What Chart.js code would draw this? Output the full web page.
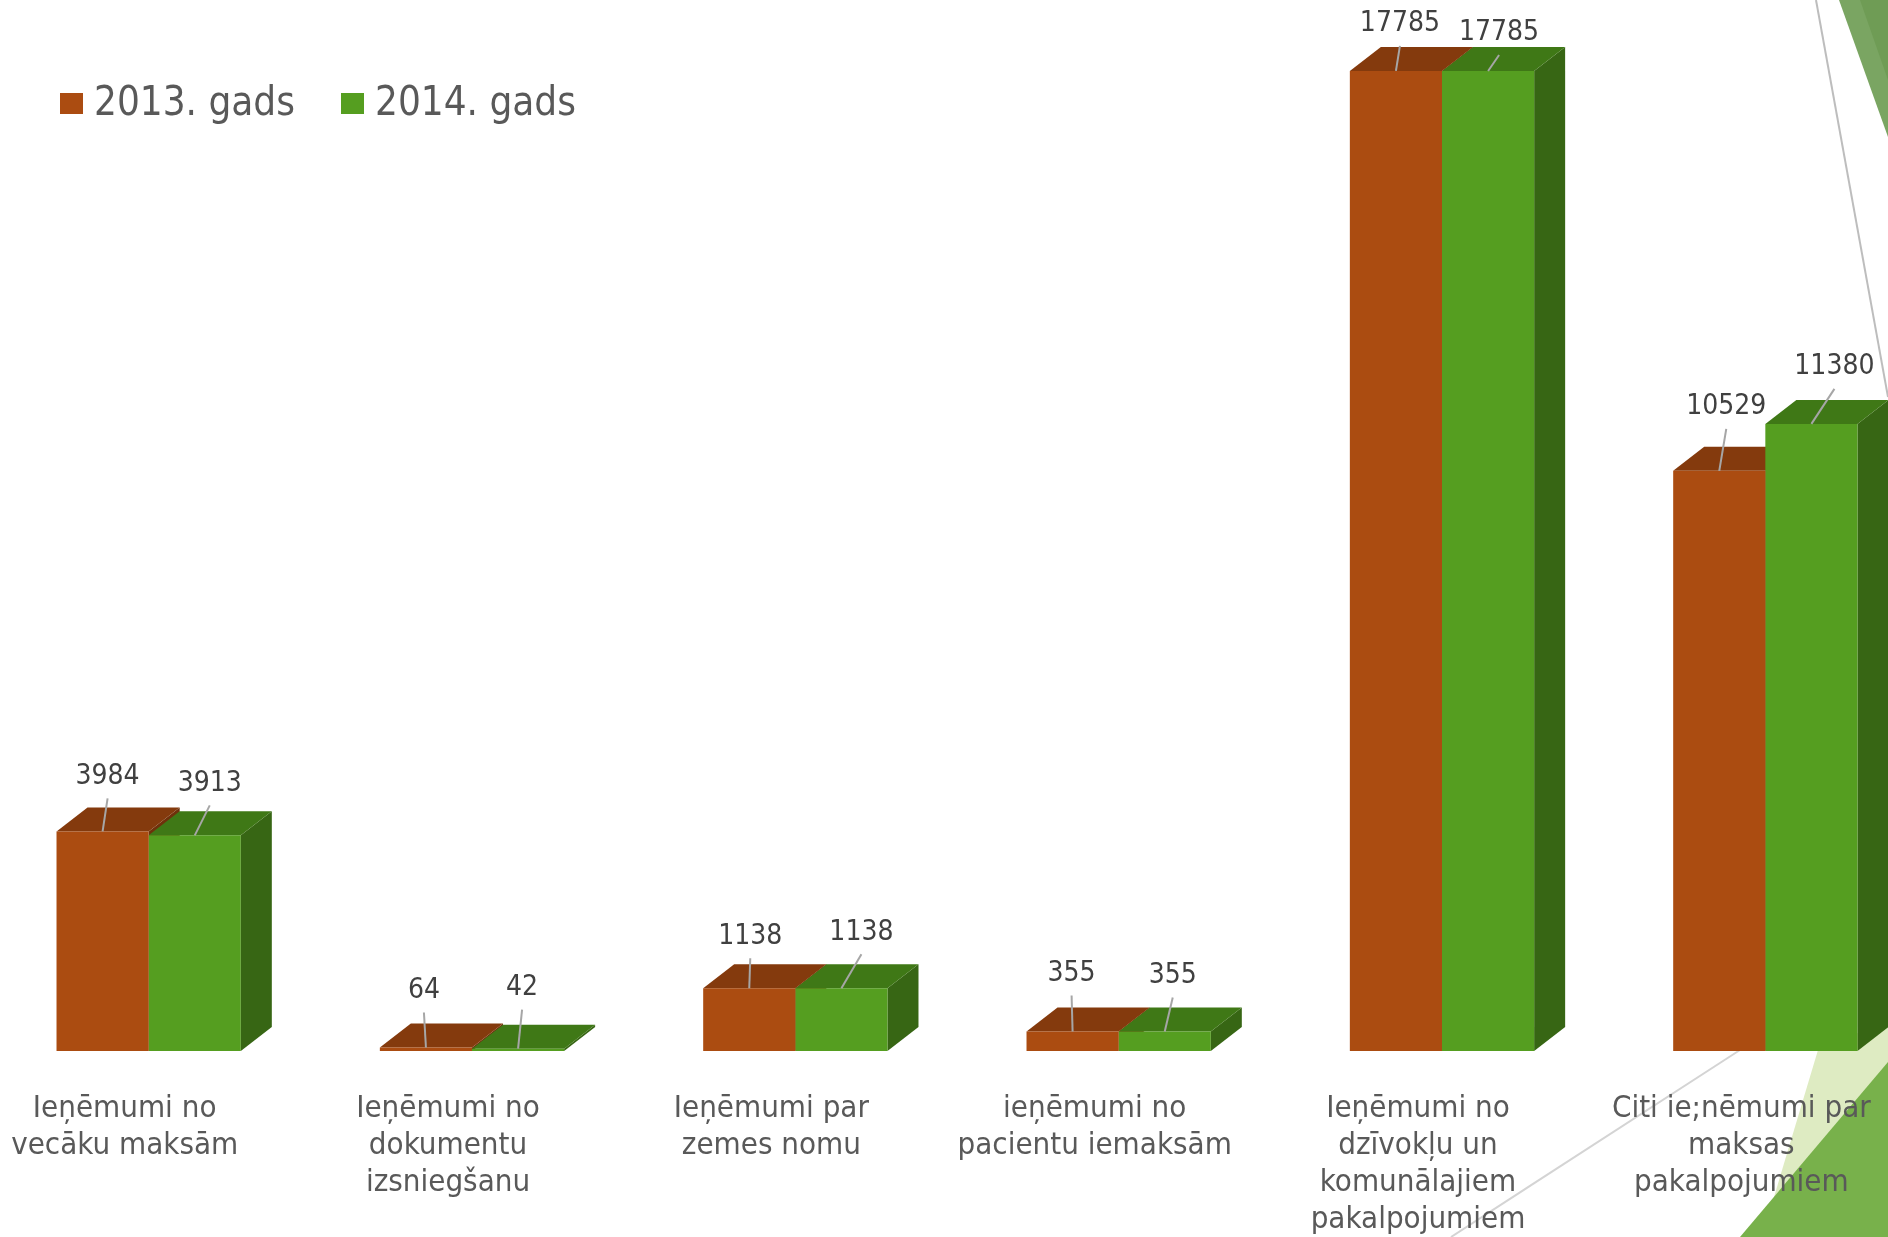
<!DOCTYPE html>
<html>
<head>
<meta charset="utf-8">
<title>Ieņēmumi</title>
<script src="https://cdn.jsdelivr.net/npm/chart.js@4/dist/chart.umd.js"></script>
<style>
html, body { margin: 0; padding: 0; background: #fff; width: 1888px; height: 1237px; overflow: hidden; }
#bg { position: absolute; left: 0; top: 0; }
#myChart { position: absolute; left: -13px; top: 0; }
</style>
</head>
<body>
<!-- slide theme shapes behind the chart -->
<svg id="bg" width="1888" height="1237">
  <polygon points="1839,0 1888,0 1888,137" fill="#7aa562"/>
  <polygon points="1860,0 1888,0 1888,80" fill="#6f9c55"/>
  <line x1="1816" y1="0" x2="1888" y2="397" stroke="#bdbdbd" stroke-width="2"/>
  <line x1="1451" y1="1237" x2="1740" y2="1050" stroke="#d4d4d4" stroke-width="2"/>
  <polygon points="1818,1050 1888,1020 1888,1237 1762,1237" fill="#deebc2"/>
  <polygon points="1888,1062 1888,1237 1740,1237" fill="#78b14b"/>
</svg>
<canvas id="myChart" width="1940" height="1237"></canvas>
<script>
const categories = [
    ['Ieņēmumi no', 'vecāku maksām'],
    ['Ieņēmumi no', 'dokumentu', 'izsniegšanu'],
    ['Ieņēmumi par', 'zemes nomu'],
    ['ieņēmumi no', 'pacientu iemaksām'],
    ['Ieņēmumi no', 'dzīvokļu un', 'komunālajiem', 'pakalpojumiem'],
    ['Citi ie;nēmumi par', 'maksas', 'pakalpojumiem']
];
const values2013 = [3984, 64, 1138, 355, 17785, 10529];
const values2014 = [3913, 42, 1138, 355, 17785, 11380];

// where each value label sits, relative to the top of its bar
const labelDx = [[5, -2, 1, -1, 4, 7], [15, 4, 20, 8, 11, 23]];
const labelDy = [[-55, -57, -52, -58, -47, -64], [-52, -61, -56, -56, -38, -57]];

const faceColors = [
    {top: '#843a0d', side: '#6f310b'},
    {top: '#3f7816', side: '#376614'}
];
const textFont = '"DejaVu Sans Condensed", "DejaVu Sans", sans-serif';
const depthX = 31, depthY = 24;

function drawSide(ctx, bar, color) {
    const r = bar.x + bar.width / 2;
    ctx.fillStyle = color;
    ctx.beginPath();
    ctx.moveTo(r, bar.y);
    ctx.lineTo(r + depthX, bar.y - depthY);
    ctx.lineTo(r + depthX, bar.base - depthY);
    ctx.lineTo(r, bar.base);
    ctx.fill();
}

function drawTop(ctx, bar, color) {
    const l = bar.x - bar.width / 2, r = bar.x + bar.width / 2;
    ctx.fillStyle = color;
    ctx.beginPath();
    ctx.moveTo(l, bar.y);
    ctx.lineTo(l + depthX, bar.y - depthY);
    ctx.lineTo(r + depthX, bar.y - depthY);
    ctx.lineTo(r, bar.y);
    ctx.fill();
}

// fake the 3D look: depth faces go behind the bars, labels on top
const bars3d = {
    id: 'bars3d',
    beforeDatasetsDraw(chart) {
        const ctx = chart.ctx;
        const bars13 = chart.getDatasetMeta(0).data, bars14 = chart.getDatasetMeta(1).data;
        bars13.forEach(bar => drawSide(ctx, bar, faceColors[0].side));
        bars14.forEach(bar => drawSide(ctx, bar, faceColors[1].side));
        bars14.forEach(bar => drawTop(ctx, bar, faceColors[1].top));
        bars13.forEach(bar => drawTop(ctx, bar, faceColors[0].top));
    },
    afterDatasetsDraw(chart) {
        const ctx = chart.ctx;
        ctx.font = '28px ' + textFont;
        ctx.textAlign = 'center';
        ctx.textBaseline = 'middle';
        chart.data.datasets.forEach((set, ds) => {
            chart.getDatasetMeta(ds).data.forEach((bar, i) => {
                const x = bar.x + labelDx[ds][i], y = bar.y + labelDy[ds][i];
                ctx.strokeStyle = '#a6a6a6';
                ctx.lineWidth = 2;
                ctx.beginPath();
                ctx.moveTo(x, y + 22);
                ctx.lineTo(bar.x, bar.y);
                ctx.stroke();
                ctx.fillStyle = '#404040';
                ctx.fillText(set.data[i], x, y);
            });
        });

        // legend sits over the chart area in one row
        ctx.font = '40px ' + textFont;
        ctx.textAlign = 'left';
        let x = 73;
        chart.data.datasets.forEach(set => {
            ctx.fillStyle = set.backgroundColor;
            ctx.fillRect(x, 93, 23, 21);
            ctx.fillStyle = '#595959';
            ctx.fillText(set.label, x + 34, 105);
            x += 281;
        });
    }
};

new Chart(document.getElementById('myChart').getContext('2d'), {
    type: 'bar',
    data: {
        labels: categories,
        datasets: [
            {label: '2013. gads', data: values2013, backgroundColor: '#ab4c11'},
            {label: '2014. gads', data: values2014, backgroundColor: '#559e20'}
        ]
    },
    options: {
        responsive: false,
        animation: false,
        devicePixelRatio: 1,
        categoryPercentage: 0.57,
        barPercentage: 1,
        layout: {padding: {top: 4}},
        plugins: {
            tooltip: {enabled: false},
            legend: {display: false}
        },
        scales: {
            x: {
                grid: {display: false},
                border: {display: false},
                afterFit(scale) { scale.height = 186; },
                ticks: {
                    autoSkip: false,
                    maxRotation: 0,
                    labelOffset: -24,
                    padding: 31,
                    color: '#595959',
                    font: {family: textFont, size: 31, lineHeight: 1.2}
                }
            },
            y: {
                display: false,
                min: 0,
                max: 19000
            }
        }
    },
    plugins: [bars3d]
});
</script>
</body>
</html>
